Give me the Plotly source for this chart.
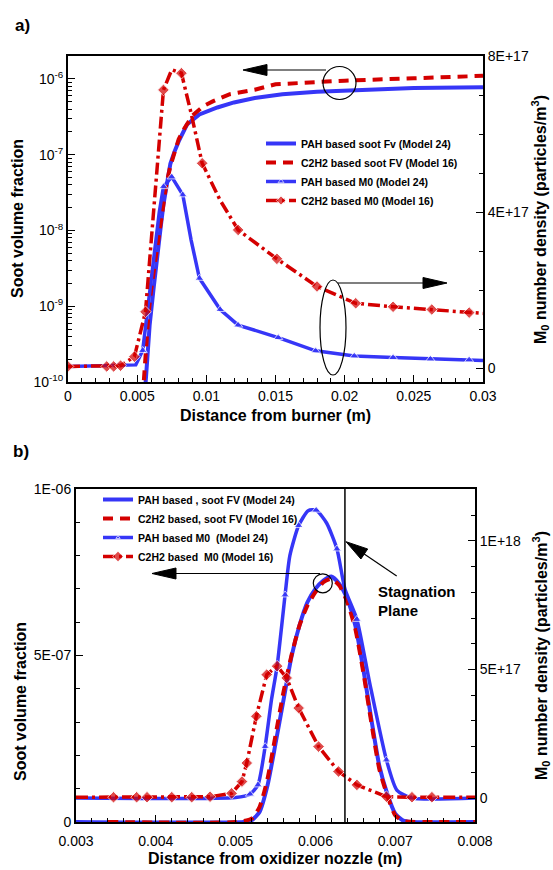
import plotly.graph_objects as go

# ---------------- data: panel a) (distance from burner) ----------------
TOP_PAH_FV_X = [0.0055, 0.0057, 0.0059, 0.0062, 0.0064, 0.0067, 0.0069, 0.0072, 0.0074, 0.0077,
                0.0080, 0.0086, 0.0095, 0.0108, 0.0120, 0.0135, 0.0155, 0.0180, 0.0210, 0.0250, 0.0300]
TOP_PAH_FV = [5.0e-11, 1.6e-10, 5.6e-10, 1.8e-9, 4.0e-9, 1.1e-8, 2.2e-8, 5.0e-8, 7.6e-8, 1.1e-7,
              1.5e-7, 2.5e-7, 3.4e-7, 4.2e-7, 4.9e-7, 5.6e-7, 6.3e-7, 6.8e-7, 7.1e-7, 7.6e-7, 7.8e-7]

TOP_C2H2_FV_X = [0.0054, 0.0056, 0.0058, 0.0060, 0.0062, 0.0065, 0.0068, 0.0071, 0.0074, 0.0077, 0.0080,
                 0.0084, 0.0090, 0.0098, 0.0105, 0.0117, 0.0135, 0.0150, 0.0175, 0.0200, 0.0250, 0.0300]
TOP_C2H2_FV = [6.3e-11, 2.5e-10, 7.1e-10, 1.6e-9, 2.8e-9, 7.9e-9, 1.8e-8, 4.0e-8, 7.1e-8, 1.1e-7, 1.6e-7,
               2.2e-7, 3.3e-7, 4.4e-7, 5.1e-7, 6.3e-7, 7.2e-7, 8.5e-7, 9.1e-7, 9.5e-7, 1.02e-6, 1.1e-6]

TOP_PAH_M0_X = [0.0, 0.0049, 0.0054, 0.0058, 0.0062, 0.0066, 0.0069, 0.0075, 0.0083, 0.0089, 0.0095,
                0.0110, 0.0123, 0.0152, 0.0179, 0.0207, 0.0235, 0.0262, 0.0290, 0.0300]
TOP_PAH_M0 = [0.04e17, 0.08e17, 0.45e17, 1.6e17, 2.9e17, 4.0e17, 4.65e17, 4.9e17, 4.44e17, 3.28e17, 2.3e17,
              1.5e17, 1.10e17, 0.78e17, 0.44e17, 0.31e17, 0.27e17, 0.23e17, 0.21e17, 0.19e17]

TOP_C2H2_M0_X = [0.0, 0.0028, 0.0033, 0.0038, 0.0048, 0.0056, 0.0069, 0.0075, 0.0082, 0.0089, 0.0097,
                 0.0110, 0.0123, 0.0151, 0.0180, 0.0208, 0.0235, 0.0263, 0.0290, 0.0300]
TOP_C2H2_M0 = [0.04e17, 0.04e17, 0.04e17, 0.06e17, 0.29e17, 1.44e17, 7.13e17, 7.65e17, 7.56e17, 6.53e17,
               5.25e17, 4.3e17, 3.54e17, 2.8e17, 2.09e17, 1.66e17, 1.57e17, 1.5e17, 1.42e17, 1.4e17]

# ---------------- data: panel b) (distance from oxidizer nozzle) ----------------
BOT_PAH_FV_X = [0.0030, 0.0051, 0.0052, 0.0053, 0.0054, 0.0055, 0.0056, 0.0057, 0.0058, 0.0059, 0.0060,
                0.0061, 0.0062, 0.0063, 0.0064, 0.0065, 0.0066, 0.0067, 0.0068, 0.0069, 0.0070, 0.0071,
                0.0072, 0.0080]
BOT_PAH_FV = [0.0, 0.0, 0.05e-7, 0.3e-7, 1.1e-7, 2.35e-7, 3.66e-7, 4.96e-7, 5.9e-7, 6.6e-7, 7.0e-7,
              7.25e-7, 7.37e-7, 7.15e-7, 6.7e-7, 5.9e-7, 4.6e-7, 3.1e-7, 1.7e-7, 0.85e-7, 0.25e-7, 0.04e-7,
              0.0, 0.0]

BOT_C2H2_FV_X = [0.0034, 0.0050, 0.0052, 0.0053, 0.0054, 0.0055, 0.0056, 0.0057, 0.0058, 0.0059, 0.0060,
                 0.0061, 0.0062, 0.0063, 0.0064, 0.0065, 0.0066, 0.0067, 0.0068, 0.0069, 0.0070, 0.0071,
                 0.0075, 0.0080]
BOT_C2H2_FV = [0.0, 0.0, 0.1e-7, 0.45e-7, 1.3e-7, 2.6e-7, 3.9e-7, 5.0e-7, 5.9e-7, 6.5e-7, 6.9e-7,
               7.2e-7, 7.3e-7, 7.1e-7, 6.6e-7, 5.8e-7, 4.5e-7, 3.0e-7, 1.6e-7, 0.8e-7, 0.2e-7, 0.03e-7,
               0.0, 0.0]

BOT_PAH_M0_X = [0.0030, 0.0050, 0.00518, 0.00528, 0.00537, 0.00545, 0.00552, 0.00562, 0.00568, 0.00579,
                0.00591, 0.00601, 0.00614, 0.00627, 0.00637, 0.00652, 0.00668, 0.00689, 0.00702, 0.0072,
                0.0080]
BOT_PAH_M0 = [0.0, 0.02e17, 0.15e17, 0.51e17, 2.0e17, 3.83e17, 5.13e17, 7.9e17, 9.43e17, 10.6e17,
              11.18e17, 11.2e17, 10.7e17, 9.69e17, 8.13e17, 6.95e17, 4.48e17, 1.48e17, 0.31e17, 0.0, 0.0]

BOT_C2H2_M0_X = [0.0030, 0.00347, 0.00376, 0.00389, 0.0042, 0.00445, 0.00468, 0.00495, 0.00508, 0.00514,
                 0.00526, 0.00539, 0.00552, 0.00564, 0.00579, 0.00604, 0.00629, 0.00652, 0.00689, 0.00721,
                 0.00746, 0.0080]
BOT_C2H2_M0 = [0.03e17, 0.03e17, 0.03e17, 0.03e17, 0.03e17, 0.03e17, 0.05e17, 0.18e17, 0.64e17, 1.36e17,
               3.18e17, 4.8e17, 5.13e17, 4.67e17, 3.5e17, 2.0e17, 1.03e17, 0.51e17, 0.05e17, 0.03e17,
               0.03e17, 0.03e17]

STAGNATION_X = 0.00637

TOP_NAMES = ["PAH based soot Fv (Model 24)", "C2H2 based soot FV (Model 16)",
             "PAH based M0 (Model 24)", "C2H2 based M0 (Model 16)"]
BOT_NAMES = ["PAH based , soot FV (Model 24)", "C2H2 based, soot FV (Model 16)",
             "PAH based M0  (Model 24)", "C2H2 based  M0 (Model 16)"]

TOP_LEFT_TICKS = [1e-10, 1e-9, 1e-8, 1e-7, 1e-6]
TOP_LEFT_TEXT = ["10<sup>-10</sup>", "10<sup>-9</sup>", "10<sup>-8</sup>", "10<sup>-7</sup>", "10<sup>-6</sup>"]
TOP_RIGHT_TICKS = [0, 4e17, 8e17]
TOP_RIGHT_TEXT = ["0", "4E+17", "8E+17"]
BOT_LEFT_TICKS = [0, 5e-7, 1e-6]
BOT_LEFT_TEXT = ["0", "5E-07", "1E-06"]
BOT_RIGHT_TICKS = [0, 5e17, 1e18]
BOT_RIGHT_TEXT = ["0", "5E+17", "1E+18"]

# ---------------- styling ----------------
W, H = 553, 870
FONT = "Liberation Sans, Arial, Helvetica, sans-serif"
BLUE = "#3636f7"
RED = "#d40000"


def px(x, y):
    return x / W, 1 - y / H


def sizes(n, size, hidden):
    return [0 if i in hidden else size for i in range(n)]


fig = go.Figure()

# panel a
fig.add_trace(go.Scatter(x=TOP_PAH_FV_X, y=TOP_PAH_FV, name=TOP_NAMES[0], mode="lines",
                         line=dict(color=BLUE, width=4), xaxis="x", yaxis="y", legend="legend"))
fig.add_trace(go.Scatter(x=TOP_C2H2_FV_X, y=TOP_C2H2_FV, name=TOP_NAMES[1], mode="lines",
                         line=dict(color=RED, width=4, dash="10px,7px"), xaxis="x", yaxis="y", legend="legend"))
fig.add_trace(go.Scatter(x=TOP_PAH_M0_X, y=TOP_PAH_M0, name=TOP_NAMES[2], mode="lines+markers",
                         line=dict(color=BLUE, width=3.5),
                         marker=dict(symbol="triangle-up", color=BLUE,
                                     size=sizes(len(TOP_PAH_M0), 8, {0, 1, 3, 4, 5, 9, 19})),
                         xaxis="x", yaxis="y2", legend="legend"))
fig.add_trace(go.Scatter(x=TOP_C2H2_M0_X, y=TOP_C2H2_M0, name=TOP_NAMES[3], mode="lines+markers",
                         line=dict(color=RED, width=3.5, dash="12px,4px,3px,4px"),
                         marker=dict(symbol="diamond", color=RED,
                                     size=sizes(len(TOP_C2H2_M0), 9, {7, 9, 11, 19})),
                         xaxis="x", yaxis="y2", legend="legend"))

# panel b
fig.add_trace(go.Scatter(x=BOT_PAH_FV_X, y=BOT_PAH_FV, name=BOT_NAMES[0], mode="lines",
                         line=dict(color=BLUE, width=4, shape="spline", smoothing=0.6),
                         xaxis="x2", yaxis="y3", legend="legend2"))
fig.add_trace(go.Scatter(x=BOT_C2H2_FV_X, y=BOT_C2H2_FV, name=BOT_NAMES[1], mode="lines",
                         line=dict(color=RED, width=4, dash="10px,7px", shape="spline", smoothing=0.6),
                         xaxis="x2", yaxis="y3", legend="legend2"))
fig.add_trace(go.Scatter(x=BOT_PAH_M0_X, y=BOT_PAH_M0, name=BOT_NAMES[2], mode="lines+markers",
                         line=dict(color=BLUE, width=3.5, shape="spline", smoothing=0.6),
                         marker=dict(symbol="triangle-up", color=BLUE,
                                     size=sizes(len(BOT_PAH_M0), 8, {0, 1, 5, 6, 8, 10, 12, 14, 16, 18, 20})),
                         xaxis="x2", yaxis="y4", legend="legend2"))
fig.add_trace(go.Scatter(x=BOT_C2H2_M0_X, y=BOT_C2H2_M0, name=BOT_NAMES[3], mode="lines+markers",
                         line=dict(color=RED, width=3.5, dash="12px,4px,3px,4px"),
                         marker=dict(symbol="diamond", color=RED,
                                     size=sizes(len(BOT_C2H2_M0), 9, {0, 21})),
                         xaxis="x2", yaxis="y4", legend="legend2"))

axis_common = dict(showline=True, linewidth=2, linecolor="black", ticks="inside", ticklen=7,
                   tickwidth=1.2, tickcolor="black", showgrid=False, zeroline=False, automargin=False,
                   tickfont=dict(family=FONT, size=14, color="black"))

minor_log = [k * 10.0 ** e for e in range(-10, -5) for k in range(2, 10)]

fig.update_layout(
    width=W, height=H,
    margin=dict(l=0, r=0, t=0, b=0, pad=0, autoexpand=False),
    paper_bgcolor="white", plot_bgcolor="white",
    font=dict(family=FONT, color="black"),
    xaxis=dict(domain=[68 / W, 483 / W], anchor="y", range=[0, 0.03], tickmode="linear", tick0=0,
               dtick=0.005, mirror=True,
               minor=dict(ticks="inside", ticklen=4, tick0=0, dtick=0.001, tickcolor="black"),
               **axis_common),
    yaxis=dict(domain=[1 - 382 / H, 1 - 56 / H], anchor="x", type="log", range=[-10, -5.697],
               tickmode="array", tickvals=TOP_LEFT_TICKS, ticktext=TOP_LEFT_TEXT,
               minor=dict(ticks="inside", ticklen=4, tickmode="array", tickvals=minor_log, tickcolor="black"),
               **axis_common),
    yaxis2=dict(overlaying="y", side="right", anchor="x", range=[-0.359e17, 8e17],
                tickmode="array", tickvals=TOP_RIGHT_TICKS, ticktext=TOP_RIGHT_TEXT,
                minor=dict(ticks="inside", ticklen=4, tick0=0, dtick=1e17, tickcolor="black"),
                **axis_common),
    xaxis2=dict(domain=[76 / W, 475 / W], anchor="y3", range=[0.003, 0.008], tickmode="linear",
                tick0=0.003, dtick=0.001, mirror=True, ticklabelstandoff=5,
                minor=dict(ticks="inside", ticklen=4, tick0=0.003, dtick=0.0002, tickcolor="black"),
                **axis_common),
    yaxis3=dict(domain=[1 - 822 / H, 1 - 489 / H], anchor="x2", range=[0, 1e-6],
                tickmode="array", tickvals=BOT_LEFT_TICKS, ticktext=BOT_LEFT_TEXT,
                minor=dict(ticks="inside", ticklen=4, tick0=0, dtick=1e-7, tickcolor="black"),
                **axis_common),
    yaxis4=dict(overlaying="y3", side="right", anchor="x2", range=[-0.0934e18, 1.2023e18],
                tickmode="array", tickvals=BOT_RIGHT_TICKS, ticktext=BOT_RIGHT_TEXT,
                minor=dict(ticks="inside", ticklen=4, tick0=0, dtick=1e17, tickcolor="black"),
                **axis_common),
    legend=dict(x=px(261, 0)[0], y=px(0, 129)[1], xanchor="left", yanchor="top",
                bgcolor="rgba(0,0,0,0)", font=dict(family=FONT, size=10.5, weight="bold"),
                tracegroupgap=0),
    legend2=dict(x=px(98, 0)[0], y=px(0, 485)[1], xanchor="left", yanchor="top",
                 bgcolor="rgba(0,0,0,0)", font=dict(family=FONT, size=10.5, weight="bold"),
                 tracegroupgap=0),
)


def ann(text, x, y, size=16, angle=0, xanchor="center", bold=True):
    fx, fy = px(x, y)
    fig.add_annotation(text=text, x=fx, y=fy, xref="paper", yref="paper", showarrow=False,
                       xanchor=xanchor, yanchor="middle", textangle=angle,
                       font=dict(family=FONT, size=size, color="black",
                                 weight="bold" if bold else "normal"))


# titles / labels
ann("a)", 22, 25, size=17)
ann("b)", 21, 451, size=17)
ann("Distance from burner (m)", 275, 415)
ann("Soot volume fraction", 18, 219, angle=-90)
ann("M<sub>0</sub> number density (particles/m<sup>3</sup>)", 540, 220, angle=-90)
ann("Distance from oxidizer nozzle (m)", 275, 858)
ann("Soot volume fraction", 20, 702, angle=-90)
ann("M<sub>0</sub> number density (particles/m<sup>3</sup>)", 541, 656, angle=-90)
ann("Stagnation", 376, 591, size=15, xanchor="left")
ann("Plane", 376, 610, size=15, xanchor="left")


def line(x0, y0, x1, y1, width=1.2):
    a, b = px(x0, y0)
    c, d = px(x1, y1)
    fig.add_shape(type="line", xref="paper", yref="paper", x0=a, y0=b, x1=c, y1=d,
                  line=dict(color="black", width=width))


def ellipse(cx, cy, rx, ry):
    a, b = px(cx - rx, cy + ry)
    c, d = px(cx + rx, cy - ry)
    fig.add_shape(type="circle", xref="paper", yref="paper", x0=a, y0=b, x1=c, y1=d,
                  line=dict(color="black", width=1.2))


def head(points):
    pts = [px(x, y) for x, y in points]
    path = "M" + " L".join(f"{a:.5f},{b:.5f}" for a, b in pts) + " Z"
    fig.add_shape(type="path", xref="paper", yref="paper", path=path,
                  fillcolor="black", line=dict(color="black", width=1))


# panel a annotations
ellipse(339.5, 83, 16.5, 16.5)
line(265, 70, 326, 70)
head([(243, 70), (267, 64.5), (267, 75.5)])
ellipse(333, 327.5, 13, 47.5)
line(338, 283, 425, 283)
head([(447, 283), (423, 277.5), (423, 288.5)])

# panel b annotations
ellipse(322.8, 583.3, 9.5, 9.5)
line(174, 573.5, 320, 573.5)
head([(152, 573.5), (176, 568), (176, 579)])
line(396.7, 576, 362, 552.5)
head([(346, 541.7), (360.9, 559), (367.7, 549)])
fig.add_shape(type="line", xref="x2", yref="y3 domain", x0=STAGNATION_X, x1=STAGNATION_X, y0=0, y1=1,
              line=dict(color="black", width=1.5))

fig.write_html("out.html")
